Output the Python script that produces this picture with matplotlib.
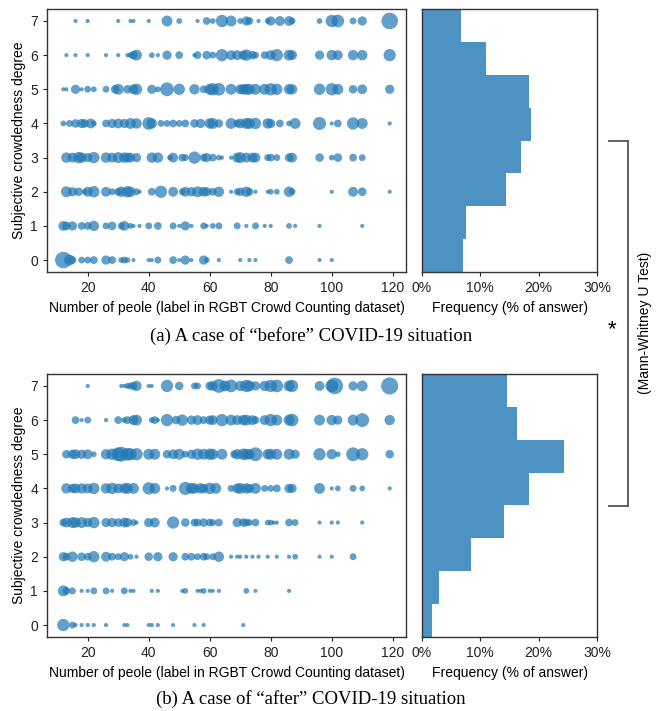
import matplotlib
matplotlib.use("Agg")
import matplotlib.pyplot as plt
from matplotlib.lines import Line2D

plt.rcParams['font.family'] = ['Liberation Sans', 'DejaVu Sans']
plt.rcParams['font.size'] = 10

ratings = [0, 1, 2, 3, 4, 5, 6, 7]

# "before" COVID-19: people count of each image (x) and number of answers (n), per rating 0..7
before_x = [
    [12, 14, 15, 18, 20, 22, 26, 28, 31, 32, 33, 35, 40, 41, 43, 48, 50, 52, 54, 58, 59, 63, 70, 73, 75, 86, 96, 100],
    [12, 13, 15, 18, 20, 22, 26, 28, 31, 32, 34, 35, 37, 40, 43, 48, 50, 52, 54, 58, 59, 61, 63, 69, 72, 75, 78, 80, 86, 88, 96, 110],
    [13, 15, 17, 19, 20, 22, 26, 28, 30, 31, 33, 34, 36, 37, 41, 44, 48, 51, 52, 54, 56, 58, 59, 61, 63, 67, 69, 70, 72, 73, 75, 79, 80, 82, 86, 87, 100, 107, 110, 119],
    [13, 15, 17, 18, 20, 22, 26, 28, 30, 32, 33, 34, 36, 41, 43, 47, 48, 51, 52, 55, 58, 59, 61, 63, 64, 67, 69, 70, 72, 74, 75, 79, 80, 82, 86, 87, 96, 100, 102, 107, 110],
    [12, 14, 16, 18, 19, 21, 22, 26, 28, 30, 32, 34, 36, 40, 41, 44, 46, 48, 50, 52, 55, 57, 60, 61, 63, 67, 69, 70, 72, 73, 75, 79, 80, 83, 86, 88, 96, 100, 102, 107, 110, 119],
    [12, 13, 16, 18, 20, 22, 26, 29, 30, 33, 35, 36, 41, 43, 46, 50, 55, 58, 60, 61, 63, 67, 70, 71, 72, 73, 75, 78, 80, 82, 86, 87, 96, 100, 102, 107, 110, 119],
    [13, 16, 20, 26, 30, 33, 34, 35, 36, 41, 43, 46, 50, 55, 56, 59, 61, 64, 67, 69, 71, 72, 74, 75, 78, 80, 82, 86, 87, 96, 100, 102, 107, 110, 119],
    [16, 20, 30, 34, 35, 40, 46, 50, 56, 59, 61, 64, 67, 70, 72, 73, 76, 79, 80, 83, 86, 87, 96, 100, 102, 107, 110, 119],
]
before_n = [
    [25, 9, 4, 3, 3, 4, 6, 4, 2, 3, 2, 1, 1, 1, 3, 4, 1, 6, 1, 6, 2, 1, 1, 1, 1, 4, 1, 1],
    [7, 5, 6, 4, 4, 8, 3, 5, 3, 7, 2, 1, 1, 3, 4, 3, 1, 6, 1, 3, 1, 2, 3, 3, 1, 3, 1, 1, 2, 1, 1, 1],
    [9, 6, 5, 2, 7, 10, 7, 3, 4, 8, 10, 8, 3, 1, 4, 12, 7, 3, 7, 6, 9, 7, 6, 4, 8, 1, 3, 5, 8, 4, 1, 1, 2, 2, 8, 3, 1, 7, 5, 1],
    [8, 7, 10, 8, 6, 10, 8, 7, 9, 8, 7, 7, 6, 8, 8, 2, 7, 4, 3, 12, 4, 6, 4, 2, 1, 1, 7, 9, 7, 7, 7, 3, 4, 3, 5, 7, 5, 2, 5, 4, 3],
    [2, 3, 5, 6, 5, 7, 2, 4, 6, 7, 6, 9, 8, 13, 8, 3, 3, 4, 3, 4, 5, 6, 8, 9, 5, 9, 4, 7, 9, 9, 10, 8, 6, 4, 2, 9, 14, 1, 4, 12, 9, 1],
    [1, 1, 6, 1, 3, 2, 3, 5, 9, 5, 7, 10, 6, 2, 16, 10, 8, 4, 9, 12, 13, 9, 7, 8, 9, 9, 9, 9, 12, 10, 8, 8, 10, 12, 9, 5, 7, 6],
    [1, 1, 1, 1, 1, 1, 2, 5, 9, 2, 1, 6, 4, 1, 4, 5, 3, 12, 7, 7, 6, 10, 5, 3, 4, 7, 12, 9, 7, 6, 8, 7, 8, 8, 12],
    [1, 1, 1, 1, 1, 1, 9, 2, 1, 4, 2, 12, 9, 2, 6, 4, 1, 2, 6, 7, 7, 3, 2, 12, 13, 3, 6, 25],
]

# "after" COVID-19
after_x = [
    [12, 15, 16, 18, 20, 22, 26, 32, 33, 40, 41, 43, 48, 55, 58, 71],
    [12, 13, 15, 18, 20, 22, 26, 28, 32, 34, 35, 41, 43, 51, 52, 56, 57, 58, 60, 61, 63, 72, 75, 86],
    [12, 13, 15, 18, 20, 22, 26, 28, 30, 32, 34, 36, 40, 43, 48, 52, 54, 56, 58, 59, 61, 63, 67, 69, 70, 72, 74, 76, 79, 82, 86, 88, 96, 100, 107],
    [12, 13, 15, 16, 18, 20, 22, 26, 28, 30, 32, 33, 35, 36, 40, 42, 48, 52, 55, 56, 58, 60, 61, 63, 69, 71, 72, 73, 75, 79, 80, 81, 82, 86, 88, 96, 100, 102, 110],
    [13, 15, 16, 18, 20, 22, 26, 28, 30, 32, 33, 35, 40, 42, 46, 48, 52, 54, 55, 57, 58, 60, 62, 67, 69, 70, 72, 73, 75, 78, 80, 82, 86, 87, 96, 100, 102, 107, 110, 119],
    [13, 15, 16, 18, 20, 22, 26, 28, 30, 31, 33, 34, 36, 40, 42, 46, 48, 50, 52, 54, 56, 58, 60, 61, 64, 68, 69, 71, 72, 73, 75, 79, 80, 82, 86, 88, 96, 100, 102, 107, 110, 119],
    [16, 18, 20, 26, 30, 32, 33, 35, 36, 41, 42, 43, 46, 49, 51, 54, 56, 58, 60, 61, 64, 67, 69, 71, 72, 74, 75, 78, 80, 82, 86, 87, 96, 100, 102, 107, 110, 119],
    [20, 31, 32, 33, 34, 35, 36, 40, 41, 46, 50, 55, 56, 60, 61, 63, 65, 67, 70, 72, 73, 75, 78, 80, 82, 86, 87, 96, 100, 101, 107, 110, 119],
]
after_n = [
    [12, 3, 1, 1, 1, 1, 1, 1, 1, 1, 1, 1, 1, 1, 1, 1],
    [9, 4, 3, 1, 1, 3, 3, 1, 3, 1, 1, 1, 1, 1, 2, 1, 1, 2, 1, 1, 1, 2, 1, 1],
    [6, 4, 8, 5, 4, 10, 7, 4, 3, 6, 2, 1, 5, 6, 6, 4, 4, 3, 4, 3, 3, 8, 1, 1, 1, 1, 1, 1, 1, 1, 1, 2, 1, 1, 3],
    [4, 7, 9, 8, 9, 6, 10, 6, 6, 5, 7, 6, 3, 1, 6, 7, 12, 5, 4, 4, 5, 4, 3, 4, 6, 5, 4, 3, 4, 2, 2, 1, 1, 4, 3, 1, 1, 1, 1],
    [8, 6, 7, 8, 7, 10, 8, 10, 7, 8, 9, 9, 12, 9, 1, 3, 14, 9, 8, 8, 6, 10, 9, 3, 7, 9, 8, 6, 9, 3, 3, 4, 6, 6, 9, 1, 2, 3, 2, 1],
    [5, 6, 7, 6, 7, 2, 8, 10, 16, 19, 13, 12, 12, 9, 9, 5, 7, 9, 3, 6, 10, 9, 10, 9, 9, 4, 8, 10, 9, 8, 16, 8, 9, 9, 9, 6, 12, 8, 2, 16, 12, 5],
    [4, 1, 3, 1, 4, 2, 4, 7, 9, 2, 4, 1, 12, 5, 10, 6, 7, 4, 6, 7, 12, 9, 7, 8, 9, 7, 4, 7, 12, 9, 9, 13, 9, 8, 6, 9, 16, 8],
    [1, 1, 1, 2, 3, 4, 8, 1, 1, 12, 5, 3, 3, 5, 7, 16, 9, 13, 8, 12, 9, 6, 8, 12, 13, 9, 12, 7, 13, 25, 6, 9, 27],
]

# share of answers per rating (%)
before_freq = [7.1, 7.5, 14.4, 16.9, 18.6, 18.4, 10.9, 6.6]
after_freq = [1.7, 2.9, 8.4, 14.0, 18.3, 24.3, 16.2, 14.6]

freq_ticks = [0, 10, 20, 30]
captions = ['(a) A case of \u201cbefore\u201d COVID-19 situation',
            '(b) A case of \u201cafter\u201d COVID-19 situation']

blue = '#1f77b4'
spine_col = '#333333'

fig = plt.figure(figsize=(6.62, 7.11), dpi=100)

panels = [(before_x, before_n, before_freq, 0.6174), (after_x, after_n, after_freq, 0.1041)]
for k, (xs, ns, freq, bot) in enumerate(panels):
    ax = fig.add_axes([0.071, bot, 0.5423, 0.3699])
    for r in ratings:
        ax.scatter(xs[r], [r] * len(xs[r]), s=[11 * n ** 0.8 - 2 for n in ns[r]],
                   color=blue, alpha=0.7, linewidths=0)
    ax.set_ylim(-0.35, 7.35)
    ax.set_yticks(ratings)
    ax.set_xticks([20, 40, 60, 80, 100, 120])
    ax.set_xlabel('Number of peole (label in RGBT Crowd Counting dataset)', labelpad=4)
    ax.set_ylabel('Subjective crowdedness degree', labelpad=3)
    ax.tick_params(length=3, width=0.8, colors='#222222', labelsize=10)
    for sp in ax.spines.values():
        sp.set_color(spine_col)
        sp.set_linewidth(1.0)

    hx = fig.add_axes([0.6375, bot, 0.2644, 0.3699])
    hx.barh(ratings, freq, height=1.0, color=blue, alpha=0.8, linewidth=0)
    hx.set_ylim(-0.5, 7.5)
    hx.set_xlim(0, 30)
    hx.set_xticks(freq_ticks)
    hx.set_xticklabels([f'{t}%' for t in freq_ticks])
    hx.set_yticks([])
    hx.set_xlabel('Frequency (% of answer)', labelpad=4)
    hx.tick_params(length=3, width=0.8, colors='#222222', labelsize=10)
    for sp in hx.spines.values():
        sp.set_color(spine_col)
        sp.set_linewidth(1.0)

fig.text(0.470, 0.527, captions[0], ha='center', va='center',
         family='Liberation Serif', fontsize=13.5)
fig.text(0.470, 0.017, captions[1], ha='center', va='center',
         family='Liberation Serif', fontsize=13.5)

# significance bracket between the two histograms
x0, x1 = 0.920, 0.9486
y_top, y_bot = 0.8017, 0.2883
for xx, yy in [([x0, x1], [y_top, y_top]), ([x1, x1], [y_top, y_bot]), ([x0, x1], [y_bot, y_bot])]:
    fig.add_artist(Line2D(xx, yy, color='#555555', lw=1.3))
fig.text(0.9245, 0.536, '*', ha='center', va='center', fontsize=16)
fig.text(0.975, 0.546, '(Mann-Whitney U Test)', rotation=90, ha='center', va='center', fontsize=10)

fig.savefig('out.png', dpi=100)
